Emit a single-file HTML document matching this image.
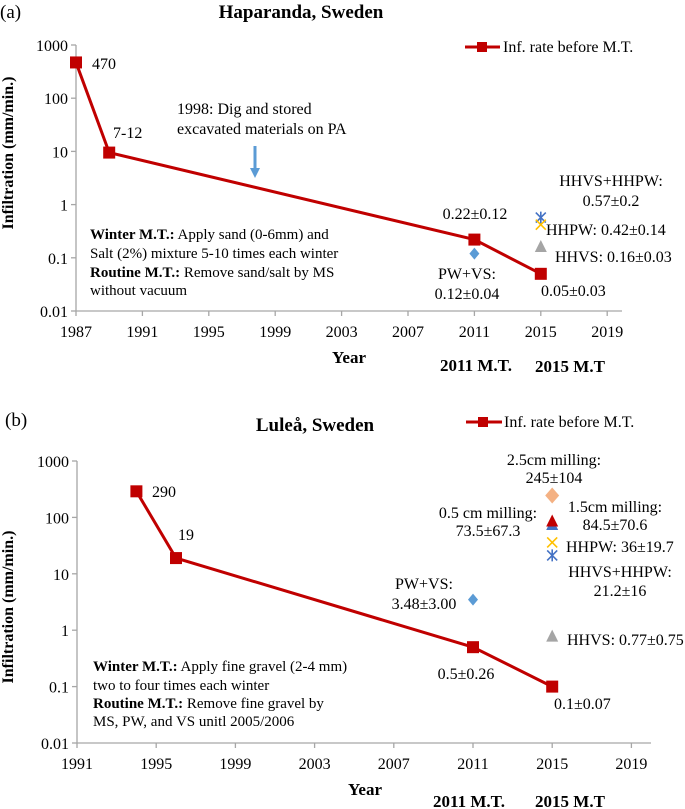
<!DOCTYPE html>
<html><head><meta charset="utf-8"><style>
body{margin:0;background:#fff}
svg{display:block;font-family:"Liberation Serif",serif}
</style></head><body>
<svg id="s" width="685" height="809" viewBox="0 0 685 809">
<g>
<text x="0" y="18" font-size="19">(a)</text>
<text x="301" y="18" font-size="19" font-weight="bold" text-anchor="middle">Haparanda, Sweden</text>
<g id="ga"></g>
<text transform="translate(13,153) rotate(-90)" font-size="16" font-weight="bold" text-anchor="middle">Infiltration (mm/min.)</text>
<text x="349" y="363" font-size="17" font-weight="bold" text-anchor="middle">Year</text>
<text x="476" y="371" font-size="17" font-weight="bold" text-anchor="middle">2011 M.T.</text>
<text x="570" y="372" font-size="17" font-weight="bold" text-anchor="middle">2015 M.T</text>
<g font-size="16">
<text x="92" y="69">470</text>
<text x="113" y="138">7-12</text>
<text x="177" y="114">1998: Dig and stored</text>
<text x="177" y="134">excavated materials on PA</text>
<text x="475" y="219" text-anchor="middle">0.22±0.12</text>
<text x="467" y="279" text-anchor="middle">PW+VS:</text>
<text x="467" y="299" text-anchor="middle">0.12±0.04</text>
<text x="541" y="296">0.05±0.03</text>
<text x="611" y="186" text-anchor="middle">HHVS+HHPW:</text>
<text x="611" y="206" text-anchor="middle">0.57±0.2</text>
<text x="546" y="235">HHPW: 0.42±0.14</text>
<text x="555" y="262">HHVS: 0.16±0.03</text>
</g>
<g font-size="15">
<text x="90" y="239"><tspan font-weight="bold">Winter M.T.:</tspan> Apply sand (0-6mm) and</text>
<text x="90" y="258">Salt (2%) mixture 5-10 times each winter</text>
<text x="90" y="277"><tspan font-weight="bold">Routine M.T.:</tspan> Remove sand/salt by MS</text>
<text x="90" y="295">without vacuum</text>
</g>
<g>
<line x1="255" y1="146" x2="255" y2="170" stroke="#5b9bd5" stroke-width="3"/>
<polygon points="250,168 260,168 255,178" fill="#5b9bd5"/>
</g>
<g>
<line x1="465" y1="47" x2="500" y2="47" stroke="#c00000" stroke-width="3"/>
<rect x="477" y="42" width="10" height="10" fill="#c00000"/>
<text x="503" y="52" font-size="16">Inf. rate before M.T.</text>
</g>
</g>
<g>
<text x="5" y="426" font-size="19">(b)</text>
<text x="315" y="431" font-size="19" font-weight="bold" text-anchor="middle">Luleå, Sweden</text>
<g id="gb"></g>
<text transform="translate(13,607) rotate(-90)" font-size="16" font-weight="bold" text-anchor="middle">Infiltration (mm/min.)</text>
<text x="365" y="795" font-size="17" font-weight="bold" text-anchor="middle">Year</text>
<text x="469" y="807" font-size="17" font-weight="bold" text-anchor="middle">2011 M.T.</text>
<text x="570" y="807" font-size="17" font-weight="bold" text-anchor="middle">2015 M.T</text>
<g font-size="16">
<text x="152" y="497">290</text>
<text x="178" y="540">19</text>
<text x="424" y="589" text-anchor="middle">PW+VS:</text>
<text x="424" y="609" text-anchor="middle">3.48±3.00</text>
<text x="466" y="679" text-anchor="middle">0.5±0.26</text>
<text x="554" y="709">0.1±0.07</text>
<text x="554" y="465" text-anchor="middle">2.5cm milling:</text>
<text x="554" y="483" text-anchor="middle">245±104</text>
<text x="488" y="518" text-anchor="middle">0.5 cm milling:</text>
<text x="488" y="536" text-anchor="middle">73.5±67.3</text>
<text x="615" y="512" text-anchor="middle">1.5cm milling:</text>
<text x="615" y="530" text-anchor="middle">84.5±70.6</text>
<text x="566" y="552">HHPW: 36±19.7</text>
<text x="620" y="577" text-anchor="middle">HHVS+HHPW:</text>
<text x="620" y="596" text-anchor="middle">21.2±16</text>
<text x="567" y="645">HHVS: 0.77±0.75</text>
</g>
<g font-size="15">
<text x="93" y="671"><tspan font-weight="bold">Winter M.T.:</tspan> Apply fine gravel (2-4 mm)</text>
<text x="93" y="690">two to four times each winter</text>
<text x="93" y="708"><tspan font-weight="bold">Routine M.T.:</tspan> Remove fine gravel by</text>
<text x="93" y="726">MS, PW, and VS unitl 2005/2006</text>
</g>
<g>
<line x1="466" y1="422" x2="502" y2="422" stroke="#c00000" stroke-width="3"/>
<rect x="478" y="417" width="10" height="10" fill="#c00000"/>
<text x="504" y="427" font-size="16">Inf. rate before M.T.</text>
</g>
</g>
</svg>
<script>
// Panel A data
const aYears = [1987, 1989, 2011, 2015];
const aValues = [470, 9.5, 0.22, 0.05];
const aXTicks = [1987, 1991, 1995, 1999, 2003, 2007, 2011, 2015, 2019];
const aYTicks = [0.01, 0.1, 1, 10, 100, 1000];
const aYTickLabels = ["0.01", "0.1", "1", "10", "100", "1000"];
const aExtraNames = ["pw-vs", "hhvs-hhpw", "hhpw", "hhvs"];
const aExtraYears = [2011, 2015, 2015, 2015];
const aExtraValues = [0.12, 0.57, 0.42, 0.16];
const aExtraShapes = ["diamond", "asterisk", "x", "triangle"];
const aExtraColors = ["#5b9bd5", "#4472c4", "#ffc000", "#a5a5a5"];
// Panel B data
const bYears = [1994, 1996, 2011, 2015];
const bValues = [290, 19, 0.5, 0.1];
const bXTicks = [1991, 1995, 1999, 2003, 2007, 2011, 2015, 2019];
const bYTicks = [0.01, 0.1, 1, 10, 100, 1000];
const bYTickLabels = ["0.01", "0.1", "1", "10", "100", "1000"];
const bExtraNames = ["pw-vs", "milling-2-5cm", "milling-0-5cm", "milling-1-5cm", "hhpw", "hhvs-hhpw", "hhvs"];
const bExtraYears = [2011, 2015, 2015, 2015, 2015, 2015, 2015];
const bExtraValues = [3.48, 245, 73.5, 84.5, 36, 21.2, 0.77];
const bExtraShapes = ["diamond", "bigdiamond", "triangle", "triangle", "x", "asterisk", "triangle"];
const bExtraColors = ["#5b9bd5", "#f4b183", "#4472c4", "#c00000", "#ffc000", "#4472c4", "#a5a5a5"];

const NS = "http://www.w3.org/2000/svg";
function mk(tag, attrs, parent){const e=document.createElementNS(NS,tag);for(const k in attrs)e.setAttribute(k,attrs[k]);parent.appendChild(e);return e;}

function draw(g, prefix, cfg, years, values, xTicks, yTicks, yLabels, eNames, eYears, eValues, eShapes, eColors){
  const X = y => cfg.x0 + (y - cfg.xMin) * cfg.pxYear;
  const Y = v => cfg.yBot - (Math.log10(v) + 2) * cfg.pxDec;
  const ax = mk('g',{},g);
  
  
  mk('line',{x1:cfg.x0,y1:Y(1000),x2:cfg.x0,y2:cfg.yBot,stroke:'#a6a6a6','stroke-width':1.3},ax);
  mk('line',{x1:cfg.x0,y1:cfg.yBot,x2:cfg.xEnd,y2:cfg.yBot,stroke:'#a6a6a6','stroke-width':1.3},ax);
  yTicks.forEach((t,i)=>{
    mk('line',{x1:cfg.x0-5,y1:Y(t),x2:cfg.x0,y2:Y(t),stroke:'#a6a6a6','stroke-width':1.3},ax);
    const tx=mk('text',{x:cfg.x0-8,y:Y(t)+6,'font-size':16,'text-anchor':'end'},ax);
    tx.textContent=yLabels[i];
    
    
  });
  xTicks.forEach(t=>{
    mk('line',{x1:X(t),y1:cfg.yBot,x2:X(t),y2:cfg.yBot+5,stroke:'#a6a6a6','stroke-width':1.3},ax);
    const tx=mk('text',{x:X(t),y:cfg.yBot+26,'font-size':16,'text-anchor':'middle'},ax);
    tx.textContent=String(t);
    
    
  });
  const pts = years.map((y,i)=>X(y)+','+Y(values[i])).join(' ');
  const pl = mk('polyline',{points:pts,fill:'none',stroke:'#c00000','stroke-width':3},g);
  
  
  years.forEach((y,i)=>{
    const r = mk('rect',{x:X(y)-6,y:Y(values[i])-6,width:12,height:12,fill:'#c00000'},g);
    
    
  });
  eYears.forEach((y,i)=>{
    const cx=X(y), cy=Y(eValues[i]), c=eColors[i], s=eShapes[i];
    let el;
    if(s==='diamond') el=mk('polygon',{points:`${cx},${cy-6} ${cx+5},${cy} ${cx},${cy+6} ${cx-5},${cy}`,fill:c},g);
    else if(s==='bigdiamond') el=mk('polygon',{points:`${cx},${cy-8} ${cx+7},${cy} ${cx},${cy+8} ${cx-7},${cy}`,fill:c},g);
    else if(s==='triangle') el=mk('polygon',{points:`${cx},${cy-7} ${cx+6},${cy+5} ${cx-6},${cy+5}`,fill:c},g);
    else if(s==='x') el=mk('path',{d:`M${cx-5},${cy-5}L${cx+5},${cy+5}M${cx+5},${cy-5}L${cx-5},${cy+5}`,stroke:c,'stroke-width':1.6},g);
    else el=mk('path',{d:`M${cx-5},${cy-5}L${cx+5},${cy+5}M${cx+5},${cy-5}L${cx-5},${cy+5}M${cx},${cy-6}L${cx},${cy+6}`,stroke:c,'stroke-width':1.6},g);
    
    
  });
}
draw(document.getElementById('ga'),'panel-a',{x0:76,xMin:1987,pxYear:16.6,xEnd:622,yBot:311,pxDec:53.2},
  aYears,aValues,aXTicks,aYTicks,aYTickLabels,aExtraNames,aExtraYears,aExtraValues,aExtraShapes,aExtraColors);
draw(document.getElementById('gb'),'panel-b',{x0:77,xMin:1991,pxYear:19.8,xEnd:651,yBot:743,pxDec:56.4},
  bYears,bValues,bXTicks,bYTicks,bYTickLabels,bExtraNames,bExtraYears,bExtraValues,bExtraShapes,bExtraColors);
</script>
</body></html>
